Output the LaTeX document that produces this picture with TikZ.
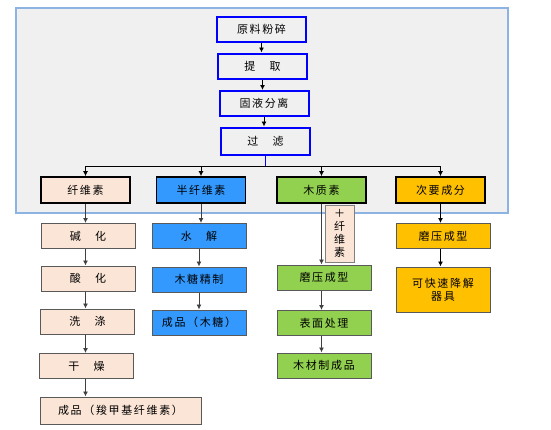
\documentclass[tikz,border=0pt]{standalone}
\usepackage{fontspec}
\newfontfamily\cjk[LetterSpace=15]{Noto Sans CJK SC}
\usepackage{xcolor}
\definecolor{bgGray}{HTML}{F0F0F0}
\definecolor{bgEdge}{HTML}{8DB3E2}
\definecolor{boxBlue}{HTML}{0000FF}
\definecolor{cellPeach}{HTML}{FBE5D6}
\definecolor{hemiBlue}{HTML}{3399FF}
\definecolor{ligGreen}{HTML}{92D050}
\definecolor{minorGold}{HTML}{FFC000}
\usetikzlibrary{arrows.meta}

\begin{document}
\begin{tikzpicture}[x=1pt,y=-1pt,>={Latex[length=5pt,width=5pt]},
    every node/.style={font=\cjk\fontsize{11}{13}\selectfont,inner sep=0pt},
    prebox/.style={draw=boxBlue,line width=2pt,minimum width=89pt,minimum height=25pt},
    kindbox/.style={draw=black,line width=1.7pt,minimum width=89pt,minimum height=26pt},
    subbox/.style={draw=black!65,line width=1pt,minimum width=94pt,minimum height=25pt},
    flow/.style={->,black!75,line width=0.9pt}]
    \useasboundingbox (0,0) rectangle (551,429);
    \filldraw[fill=bgGray,draw=bgEdge,line width=2.4pt] (16,8) rectangle (508,213);
    \node[prebox] (raw) at (261.5,29.5) {原料粉碎};
    \node[prebox] (extract) at (262.5,66) {提　取};
    \node[prebox] (separate) at (264,103.5) {固液分离};
    \node[prebox,minimum height=27pt] (filter) at (265.5,141) {过　滤};
    \draw[flow,black] (raw.south) -- (raw.south |- extract.north);
    \draw[flow,black] (extract.south) -- (extract.south |- separate.north);
    \draw[flow,black] (separate.south) -- (separate.south |- filter.north);
    \node[kindbox,fill=cellPeach] (cell) at (85.5,190) {纤维素};
    \node[kindbox,fill=hemiBlue] (hemi) at (201,190) {半纤维素};
    \node[kindbox,fill=ligGreen] (lignin) at (321.5,190) {木质素};
    \node[kindbox,fill=minorGold] (minor) at (440.5,190) {次要成分};
    \coordinate (split) at (263,166);
    \draw[boxBlue,line width=1.2pt] (filter.south) -- (filter.south |- split);
    \draw[black,line width=1pt] (cell.north |- split) -- (minor.north |- split);
    \foreach \kind in {cell,hemi,lignin,minor}
      \draw[flow,black] (\kind.north |- split) -- (\kind.north);
    % cellulose
    \node[subbox,fill=cellPeach] (alkali) at (88,236) {碱　化};
    \node[subbox,fill=cellPeach] (acid) at (88,278.5) {酸　化};
    \node[subbox,fill=cellPeach] (wash) at (87.5,321.5) {洗　涤};
    \node[subbox,fill=cellPeach] (dry) at (86.5,366) {干　燥};
    \node[subbox,fill=cellPeach,minimum width=161pt,minimum height=27pt] (cmc) at (120.5,410.5) {成品（羧甲基纤维素）};
    \draw[flow] (cell.south) -- (cell.south |- alkali.north);
    \draw[flow] (alkali.south -| cell) -- (acid.north -| cell);
    \draw[flow] (acid.south -| cell) -- (wash.north -| cell);
    \draw[flow] (wash.south -| cell) -- (dry.north -| cell);
    \draw[flow] (dry.south -| cell) -- (cmc.north -| cell);
    % hemicellulose
    \node[subbox,fill=hemiBlue] (hydro) at (199,236) {水　解};
    \node[subbox,fill=hemiBlue] (refine) at (199,279.5) {木糖精制};
    \node[subbox,fill=hemiBlue] (xylose) at (199,322.5) {成品（木糖）};
    \draw[flow] (hemi.south) -- (hemi.south |- hydro.north);
    \draw[flow] (hydro.south) -- (hydro.south |- refine.north);
    \draw[flow] (refine.south) -- (refine.south |- xylose.north);
    % lignin
    \node[subbox,fill=ligGreen] (press) at (324,277.5) {磨压成型};
    \node[subbox,fill=ligGreen] (surface) at (324,323) {表面处理};
    \node[subbox,fill=ligGreen] (wood) at (324,365.5) {木材制成品};
    \node[subbox,fill=cellPeach,draw=black!50,minimum width=29pt,minimum height=57pt,align=center] (addcell) at (339.5,233.5) {＋\\纤\\维\\素};
    \draw[flow] (lignin.south) -- (lignin.south |- press.north);
    \draw[flow] (press.south -| lignin) -- (surface.north -| lignin);
    \draw[flow] (surface.south -| lignin) -- (wood.north -| lignin);
    % minor components
    \node[subbox,fill=minorGold] (mold) at (443,236) {磨压成型};
    \node[subbox,fill=minorGold,minimum height=45pt,align=center] (tableware) at (443,289.5) {可快速降解\\器具};
    \draw[flow,black] (minor.south) -- (minor.south |- mold.north);
    \draw[flow,black] (mold.south -| minor) -- (tableware.north -| minor);
\end{tikzpicture}
\end{document}
